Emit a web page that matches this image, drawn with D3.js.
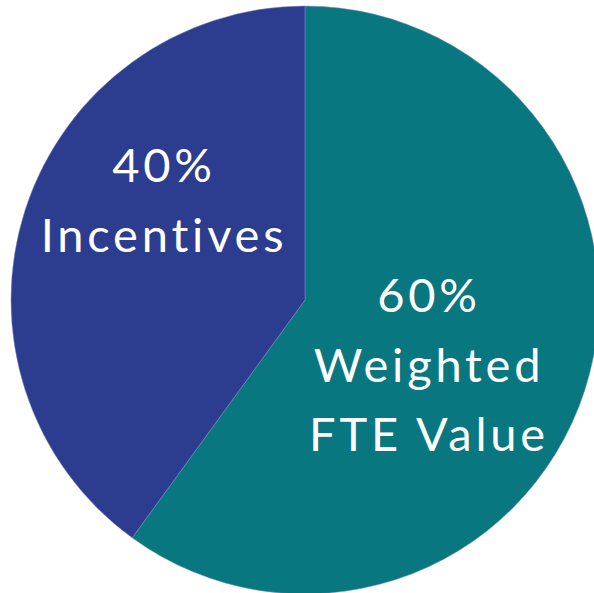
<!DOCTYPE html>
<html>
<head>
<meta charset="utf-8">
<script src="https://cdn.jsdelivr.net/npm/d3@7"></script>
<style>
  html, body { margin: 0; padding: 0; background: #fff; }
  svg { display: block; }
</style>
</head>
<body>
<svg id="chart" width="594" height="593"></svg>
<script>
// slice data, clockwise from 12 o'clock
const categories = ['Weighted FTE Value', 'Incentives'];
const shares = [60, 40];
const labelLines = [
  ['60%', 'Weighted', 'FTE Value'],
  ['40%', 'Incentives'],
];
const colors = ['#08777f', '#2c3c8f'];

const cfg = {
  cx: 305,
  cy: 300,
  radius: 294,
  fontSize: 47,
  letterSpacing: 3.8,
  lineHeight: 69.5,
  font: 'Lato, "Open Sans", sans-serif',
};

// label anchors (centre x, first baseline y)
const labelPos = [
  { x: 429, y: 312 },
  { x: 164, y: 182 },
];

const svg = d3.select('#chart');
const g = svg.append('g').attr('transform', `translate(${cfg.cx},${cfg.cy})`);

const pie = d3.pie().sort(null).value((d) => d);
const arc = d3.arc().innerRadius(0).outerRadius(cfg.radius);
const arcs = pie(shares);

g.selectAll('path.slice')
  .data(arcs)
  .join('path')
  .attr('class', 'slice')
  .attr('d', arc)
  .attr('fill', (d, i) => colors[i])
  .attr('stroke', '#7f8fc0')
  .attr('stroke-width', 0.5);

// labels
const labels = svg.append('g').attr('class', 'labels');
labelLines.forEach((lines, i) => {
  const t = labels.append('text')
    .attr('x', labelPos[i].x)
    .attr('y', labelPos[i].y)
    .attr('text-anchor', 'middle')
    .style('font-family', cfg.font)
    .style('font-size', `${cfg.fontSize}px`)
    .style('letter-spacing', `${cfg.letterSpacing}px`)
    .style('fill', '#ffffff');
  lines.forEach((line, j) => {
    t.append('tspan')
      .attr('x', labelPos[i].x)
      .attr('dy', j === 0 ? 0 : cfg.lineHeight)
      .text(line);
  });
});
</script>
</body>
</html>
